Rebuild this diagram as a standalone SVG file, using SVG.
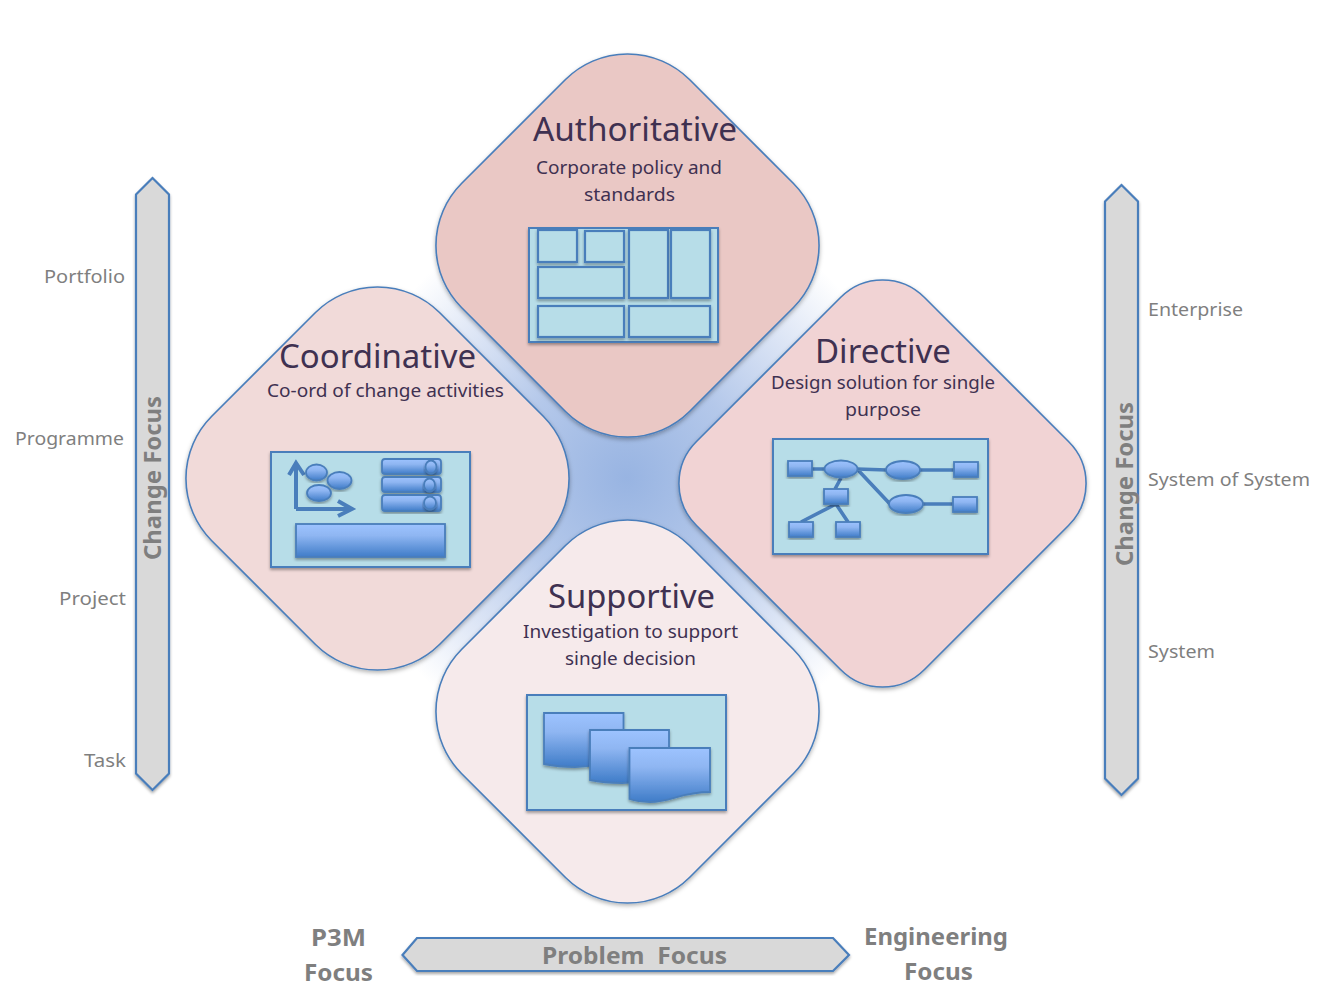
<svg xmlns="http://www.w3.org/2000/svg" width="1328" height="1007" viewBox="0 0 1328 1007">
<style>
text{font-family:"Noto Sans","Open Sans","Liberation Sans",sans-serif}
.title{font-size:32px;fill:#3f3151}
.body{font-size:18px;fill:#3f3151}
.side{font-size:18.5px;fill:#7f7f7f}
.bold{font-size:23.5px;font-weight:700;fill:#7f7f7f}
.mid{font-size:23.5px;font-weight:700;fill:#7f7f7f}
.dia{stroke:#4a7ebb;stroke-width:1.6;filter:url(#sh)}
.arrow{fill:#d9d9d9;stroke:#4a7ebb;stroke-width:2.2;stroke-linejoin:miter;filter:url(#shs)}
.panel{fill:#b7dde8;stroke:#4a7ebb;stroke-width:2;filter:url(#shs)}
.cell{fill:#b7dde8;stroke:#4a7ebb;stroke-width:2.2;filter:url(#shs)}
.blue{fill:url(#bg);stroke:#4a7ebb;stroke-width:1.8;filter:url(#shs)}
.ln{fill:none;stroke:#4a7ebb;stroke-width:3.6}
</style>
<defs>
<filter id="sh" x="-10%" y="-10%" width="120%" height="120%"><feDropShadow dx="0" dy="2" stdDeviation="2" flood-color="#000" flood-opacity=".3"/></filter>
<filter id="shs" x="-15%" y="-15%" width="130%" height="130%"><feDropShadow dx="0" dy="2" stdDeviation="1.5" flood-color="#000" flood-opacity=".35"/></filter>
<linearGradient id="bg" x1="0" y1="0" x2="0" y2="1"><stop offset="0" stop-color="#9dc3ff"/><stop offset=".35" stop-color="#8fb6f2"/><stop offset="1" stop-color="#3f7cc8"/></linearGradient>
<radialGradient id="glow" gradientUnits="userSpaceOnUse" cx="627" cy="478" r="285"><stop offset="0" stop-color="#98b4e2"/><stop offset=".4" stop-color="#b4c8ea"/><stop offset=".75" stop-color="#dfe7f6"/><stop offset="1" stop-color="#fff"/></radialGradient>
<path id="d" d="M-62,-166A88,88 0 0 1 62,-166L166,-62A88,88 0 0 1 166,62L62,166A88,88 0 0 1 -62,166L-166,62A88,88 0 0 1 -166,-62Z"/>
</defs>
<rect width="1328" height="1007" fill="#fff"/>
<circle id="glow-center" cx="627" cy="478" r="285" fill="url(#glow)"/>

<g id="connectors"></g>

<g id="node-authoritative">
<use href="#d" x="627.5" y="245.5" class="dia" fill="#eac8c5"/>
<text class="title" x="533" y="141" textLength="204" lengthAdjust="spacingAndGlyphs">Authoritative</text>
<text class="body" x="536" y="174" textLength="186" lengthAdjust="spacingAndGlyphs">Corporate policy and</text>
<text class="body" x="584" y="201" textLength="91" lengthAdjust="spacingAndGlyphs">standards</text>
<rect class="panel" x="529" y="228" width="189" height="114"/>
<rect class="cell" x="538" y="230" width="39" height="32"/>
<rect class="cell" x="585" y="231" width="39" height="31"/>
<rect class="cell" x="629" y="230" width="39" height="68"/>
<rect class="cell" x="671" y="230" width="39" height="68"/>
<rect class="cell" x="538" y="267" width="86" height="31"/>
<rect class="cell" x="538" y="306" width="86" height="31"/>
<rect class="cell" x="629" y="306" width="81" height="31"/>
</g>

<g id="node-coordinative">
<use href="#d" x="377.5" y="478.5" class="dia" fill="#f1dad9"/>
<text class="title" x="279" y="368" textLength="197" lengthAdjust="spacingAndGlyphs">Coordinative</text>
<text class="body" x="267" y="397" textLength="237" lengthAdjust="spacingAndGlyphs">Co-ord of change activities</text>
<rect class="panel" x="271" y="452" width="199" height="115"/>
<path class="ln" style="stroke-width:4" d="M296,509V464M289,475L296,463L304,475M296,509H352M338,501L352,509L338,516"/>
<ellipse class="blue" cx="316.5" cy="472.5" rx="10.5" ry="8"/>
<ellipse class="blue" cx="339.500" cy="480.500" rx="12" ry="8.500"/>
<ellipse class="blue" cx="319" cy="493" rx="12" ry="8"/>
<rect class="blue" x="382" y="459" width="59" height="15" rx="3"/>
<ellipse class="blue" cx="431" cy="467" rx="5.5" ry="6.5"/>
<rect class="blue" x="382" y="477" width="59" height="15" rx="3"/>
<ellipse class="blue" cx="429.5" cy="485" rx="5.5" ry="6.5"/>
<rect class="blue" x="382" y="495" width="59" height="16" rx="3"/>
<ellipse class="blue" cx="430" cy="503" rx="6" ry="6.5"/>
<rect class="blue" x="296" y="524" width="149" height="33"/>
</g>

<g id="node-directive">
<path class="dia" fill="#f1d3d4" transform="translate(882.5 483.5)" d="M-42,-186A59,59 0 0 1 42,-186L186,-42A59,59 0 0 1 186,42L42,186A59,59 0 0 1 -42,186L-186,42A59,59 0 0 1 -186,-42Z"/>
<text class="title" x="815" y="363" textLength="136" lengthAdjust="spacingAndGlyphs">Directive</text>
<text class="body" x="771" y="389" textLength="224" lengthAdjust="spacingAndGlyphs">Design solution for single</text>
<text class="body" x="845" y="416" textLength="76" lengthAdjust="spacingAndGlyphs">purpose</text>
<rect class="panel" x="773" y="439" width="215" height="115"/>
<path class="ln" d="M812,469H825M857,469L887,470M920,470H954M858,470L890,504M923,504H953M841,478L835,489M836,504L801,522M836,504L848,522"/>
<rect class="blue" x="788" y="461" width="24" height="15"/>
<ellipse class="blue" cx="841" cy="469" rx="16.5" ry="8.5"/>
<ellipse class="blue" cx="903" cy="470" rx="17" ry="9"/>
<rect class="blue" x="954" y="462" width="24" height="15"/>
<rect class="blue" x="824" y="489" width="24" height="15"/>
<ellipse class="blue" cx="906" cy="504" rx="17" ry="9"/>
<rect class="blue" x="953" y="497" width="24" height="15"/>
<rect class="blue" x="789" y="522" width="24" height="15"/>
<rect class="blue" x="836" y="522" width="24" height="15"/>
</g>

<g id="node-supportive">
<use href="#d" x="627.5" y="711.5" class="dia" fill="#f6eaeb"/>
<text class="title" x="548" y="608" textLength="167" lengthAdjust="spacingAndGlyphs">Supportive</text>
<text class="body" x="523" y="638" textLength="215" lengthAdjust="spacingAndGlyphs">Investigation to support</text>
<text class="body" x="565" y="665" textLength="131" lengthAdjust="spacingAndGlyphs">single decision</text>
<rect class="panel" x="527" y="695" width="199" height="115"/>
<path class="blue" d="M544,713H623.5V760Q600,766 575,767Q558,767 544,764Z"/>
<path class="blue" d="M590,730H669V777Q646,782 622,783Q604,783 590,780Z"/>
<path class="blue" d="M629.5,748H710V792C680,792 672,802 650,802C642,802 635,801 629.5,799Z"/>
</g>

<g id="node-change-focus-left">
<path class="arrow" d="M136,194.500L152.500,178L169,194.500V773.500L152.500,790L136,773.500Z"/>
<text class="mid" transform="translate(161 560) rotate(-90)" textLength="164" lengthAdjust="spacingAndGlyphs">Change Focus</text>
<text class="side" x="44" y="283" textLength="81" lengthAdjust="spacingAndGlyphs">Portfolio</text>
<text class="side" x="15" y="445" textLength="109" lengthAdjust="spacingAndGlyphs">Programme</text>
<text class="side" x="59" y="605" textLength="67" lengthAdjust="spacingAndGlyphs">Project</text>
<text class="side" x="84" y="767" textLength="42" lengthAdjust="spacingAndGlyphs">Task</text>
</g>

<g id="node-change-focus-right">
<path class="arrow" d="M1105,201.500L1121.500,185L1138,201.500V778.500L1121.500,795L1105,778.500Z"/>
<text class="mid" transform="translate(1133 566) rotate(-90)" textLength="164" lengthAdjust="spacingAndGlyphs">Change Focus</text>
<text class="side" x="1148" y="316" textLength="95" lengthAdjust="spacingAndGlyphs">Enterprise</text>
<text class="side" x="1148" y="486" textLength="162" lengthAdjust="spacingAndGlyphs">System of System</text>
<text class="side" x="1148" y="658" textLength="67" lengthAdjust="spacingAndGlyphs">System</text>
</g>

<g id="node-problem-focus">
<path class="arrow" d="M402.500,955L417,938H833L849,955L833,971H417Z"/>
<text class="mid" x="542" y="964" textLength="185" lengthAdjust="spacingAndGlyphs" xml:space="preserve">Problem  Focus</text>
<text class="bold" x="311" y="946" textLength="55" lengthAdjust="spacingAndGlyphs">P3M</text>
<text class="bold" x="304" y="981" textLength="69" lengthAdjust="spacingAndGlyphs">Focus</text>
<text class="bold" x="864" y="945" textLength="144" lengthAdjust="spacingAndGlyphs">Engineering</text>
<text class="bold" x="904" y="980" textLength="69" lengthAdjust="spacingAndGlyphs">Focus</text>
</g>
</svg>
